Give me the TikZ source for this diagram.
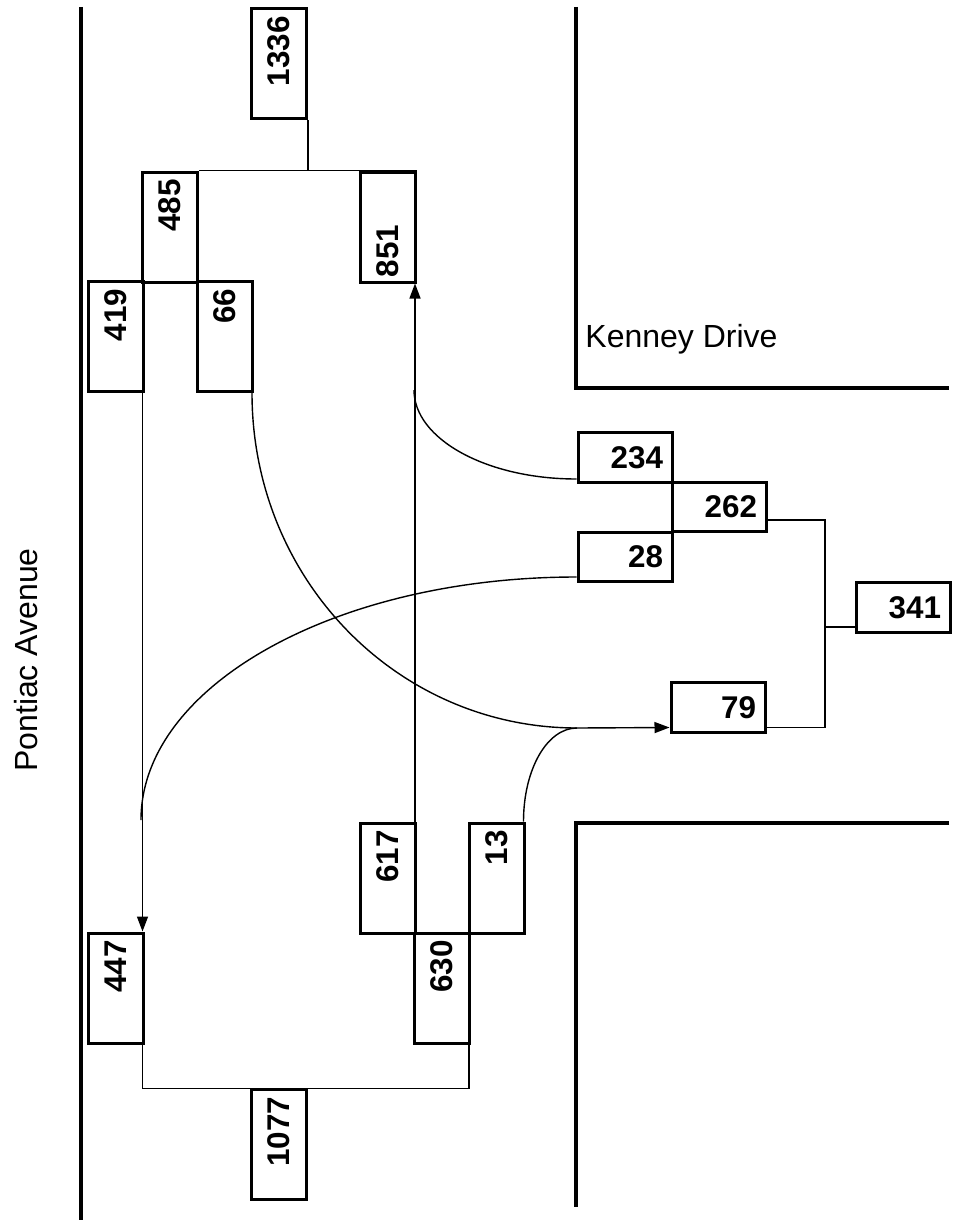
\documentclass[tikz,border=0pt]{standalone}
\usepackage{fontspec}
\setmainfont{Liberation Sans}
\usetikzlibrary{positioning,arrows.meta,calc}

\begin{document}
\begin{tikzpicture}[
  x=0.5pt, y=0.5pt,
  cellv/.style={draw, line width=1.5pt, rotate=90, minimum width=55pt, minimum height=27.5pt, inner xsep=3.75pt, inner ysep=0pt, text width=47.5pt, align=right, font=\fontsize{15.7pt}{18pt}\selectfont\bfseries},
  cellh/.style={draw, line width=1.5pt, minimum width=47pt, minimum height=24.75pt, inner xsep=4.5pt, inner ysep=0pt, text width=38pt, align=right, font=\fontsize{15.7pt}{18pt}\selectfont\bfseries},
  link/.style={line width=0.7pt},
  flow/.style={link, -{Triangle[length=7.5pt, width=5.5pt]}},
  road/.style={line width=1.6pt},
  street/.style={inner sep=0pt, font=\fontsize{16pt}{19pt}\selectfont}
]
\useasboundingbox (0,0) rectangle (954,-1220);

\draw[road] (81,-7) -- (81,-1220);
\draw[road] (576,-7) |- (949,-388);
\draw[road] (949,-823) -| (576,-1207);

\node[street, anchor=base west] (kenney) at (585,-347) {Kenney Drive};
\node[street, rotate=90, anchor=base] (pontiac) at (37,-660) {Pontiac Avenue};

\node[cellv] (n1336) at (279,-64) {1336};
\node[cellv] (n485) at (170,-227) {485};
\node[cellv, align=left, inner xsep=2.5pt, text width=50pt] (n851) at (388,-227) {851};
\node[cellv] (n419) at (115.5,-336.5) {419};
\node[cellv] (n66) at (225,-336.5) {66};
\node[cellv] (n617) at (388,-878) {617};
\node[cellv] (n13) at (496.5,-878) {13};
\node[cellv] (n630) at (442,-988) {630};
\node[cellv] (n447) at (115.5,-988) {447};
\node[cellv] (n1077) at (278.5,-1144.5) {1077};

\node[cellh] (n234) at (625,-457.5) {234};
\node[cellh] (n262) at (719,-507) {262};
\node[cellh] (n28) at (625,-557) {28};
\node[cellh] (n341) at (903,-607.5) {341};
\node[cellh] (n79) at (718,-707.5) {79};

\coordinate (f1336) at ($(n485.south east)!0.5!(n851.south east)$);
\coordinate (f341) at (825,-627);
\coordinate (j79) at (577,-728);
\coordinate (j851) at (414,-390);
\coordinate (j447) at (141,-820);

\draw[link] (n485.south east) -- (n851.south east);
\draw[link] (f1336) -- (f1336 |- n1336.south west);

\draw[flow] ([xshift=-1pt]n419.south west) -- ([xshift=-1pt]n447.south east);
\draw[flow] ([xshift=-1pt]n617.south east) -- ([xshift=-1pt]n851.south west);

\draw[flow] ([xshift=-1pt]n66.south west) to[out=-90, in=180, out distance=93pt, in distance=90pt] (j79) -- ([yshift=-10pt]n79.west);
\draw[link] ([xshift=-1pt]n13.south east) to[out=90, in=180, out distance=26pt, in distance=15pt] (j79);
\draw[link] ([yshift=-10.75pt]n234.west) to[out=180, in=-90, out distance=45pt, in distance=24.5pt] (j851);
\draw[link] ([yshift=-10pt]n28.west) to[out=180, in=90, out distance=120.5pt, in distance=67pt] (j447);

\draw[link] ([yshift=-6.5pt]n262.east) -| (f341) |- ([yshift=-10pt]n79.east);
\draw[link] (f341) -- (f341 -| n341.west);

\draw[link] ([xshift=-1pt]n447.south west) -- ++(0,-44) coordinate (b447) -| ([xshift=-1pt]n630.south west);
\coordinate (f1077) at ($(b447)!0.5!(b447 -| n630.south west)$);
\draw[link] (f1077) -- (f1077 |- n1077.south east);
\end{tikzpicture}
\end{document}
